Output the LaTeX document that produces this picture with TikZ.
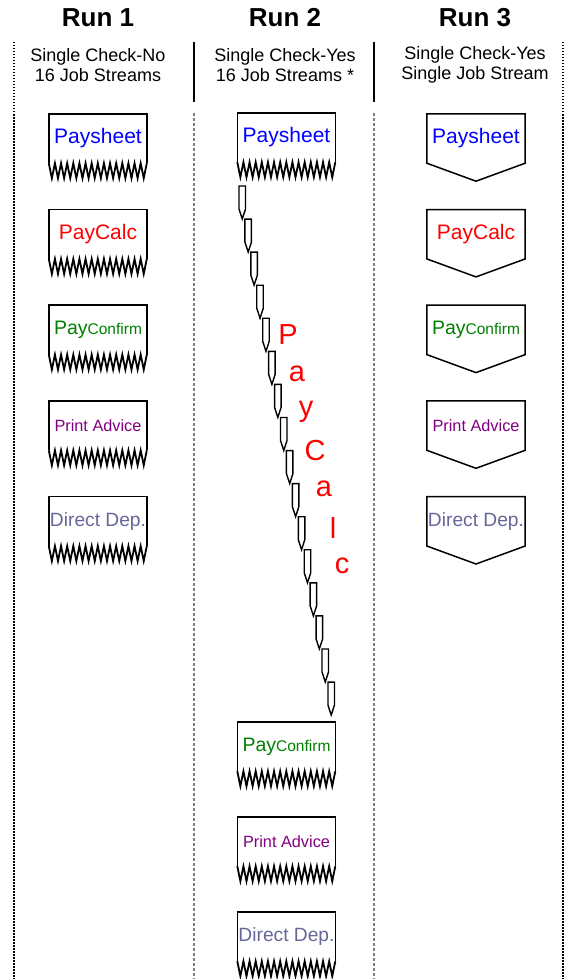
\documentclass[tikz,border=0pt]{standalone}
\usepackage{fontspec}
\setmainfont{Liberation Sans}
\usetikzlibrary{positioning}
\definecolor{jobblue}{RGB}{0,0,255}
\definecolor{jobred}{RGB}{255,0,0}
\definecolor{jobgreen}{RGB}{0,128,0}
\definecolor{jobpurple}{RGB}{128,0,128}
\definecolor{jobslate}{RGB}{102,102,153}
\tikzset{
	jobtext/.style={minimum width=98pt, minimum height=49pt, inner sep=0pt},
	boxline/.style={line width=1.5pt, line join=miter},
	zigline/.style={line width=1.8pt, line join=miter},
	streamline/.style={line width=1.4pt, fill=white, line join=miter},
	runtitle/.style={font=\bfseries\fontsize{26}{30}\selectfont},
	runnote/.style={font=\fontsize{18}{20}\selectfont, align=center},
	edgedots/.style={line width=1.5pt, dash pattern=on 1.5pt off 1.5pt},
	coldash/.style={line width=1.5pt, gray, dash pattern=on 3pt off 2pt},
	calcletter/.style={jobred, font=\fontsize{29}{32}\selectfont, inner sep=0pt},
}
% box with a torn (zigzag) bottom
\newcommand{\wavybox}[1]{%
	\draw[boxline] (#1.south west) -- (#1.north west) -- (#1.north east) -- (#1.south east);
	\draw[zigline] (#1.south west) \foreach \k in {1,...,16}{ -- ++(3.0625,15) -- ++(3.0625,-15)};}
% box with a pointed bottom
\newcommand{\chevbox}[1]{%
	\draw[boxline] (#1.north west) -- (#1.south west) -- ([yshift=-18pt]#1.south) -- (#1.south east) -- (#1.north east) -- cycle;}
\newcommand{\jobPaysheet}{\textcolor{jobblue}{\fontsize{21}{24}\selectfont Paysheet}}
\newcommand{\jobPayCalc}{\textcolor{jobred}{\fontsize{21}{24}\selectfont PayCalc}}
\newcommand{\jobPayConfirm}{\textcolor{jobgreen}{\fontsize{19.5}{22}\selectfont Pay\fontsize{15.5}{18}\selectfont Confirm}}
\newcommand{\jobPrintAdvice}{\textcolor{jobpurple}{\fontsize{16.3}{18}\selectfont Print Advice}}
\newcommand{\jobDirectDep}{\textcolor{jobslate}{\fontsize{19.2}{22}\selectfont Direct Dep.}}
\begin{document}
\begin{tikzpicture}[x=1pt, y=-1pt]
	\useasboundingbox (0,0) rectangle (567,979);
	% column separators
	\draw[edgedots] (14,42) -- (14,979) (563,42) -- (563,979);
	\draw[line width=1.5pt] (194,42) -- (194,102) (374,42) -- (374,102);
	\draw[coldash] (194,113) -- (194,979) (374,113) -- (374,979);
	% headings
	\node[runtitle] (run1) at (98,18) {Run 1};
	\node[runtitle] (run2) at (285,18) {Run 2};
	\node[runtitle] (run3) at (475,18) {Run 3};
	\node[runnote] (note1) at (98,65) {Single Check-No\\16 Job Streams};
	\node[runnote] (note2) at (285,65) {Single Check-Yes\\16 Job Streams *};
	\node[runnote] (note3) at (475,65) {Single Check-Yes\\Single Job Stream};
	% Run 1 and Run 3
	\foreach \name [count=\i from 0] in {Paysheet,PayCalc,PayConfirm,PrintAdvice,DirectDep}{
		\node[jobtext] (a\name) at (98,{138.5+95.7*\i}) {\csname job\name\endcsname};
		\wavybox{a\name}
		\node[jobtext] (c\name) at (476,{138.5+95.7*\i}) {\csname job\name\endcsname};
		\chevbox{c\name}
	}
	% Run 2
	\node[jobtext] (bPaysheet) at (286.5,137.5) {\jobPaysheet};
	\wavybox{bPaysheet}
	\foreach \name [count=\i from 0] in {PayConfirm,PrintAdvice,DirectDep}{
		\node[jobtext] (b\name) at (286.5,{746.5+95*\i}) {\csname job\name\endcsname};
		\wavybox{b\name}
	}
	% 16 PayCalc streams
	\foreach \i in {0,...,15}
		\draw[streamline] ({239+5.93*\i},{186+33.07*\i}) -- ++(0,23) -- ++(3.25,10) -- ++(3.25,-10) -- ++(0,-23) -- cycle;
	\foreach \ch [count=\i from 0] in {P,a,y,C,a,l,c}
		\node[calcletter] (calc\i) at ({288+9*\i},{335+38.5*\i}) {\ch};
\end{tikzpicture}
\end{document}
